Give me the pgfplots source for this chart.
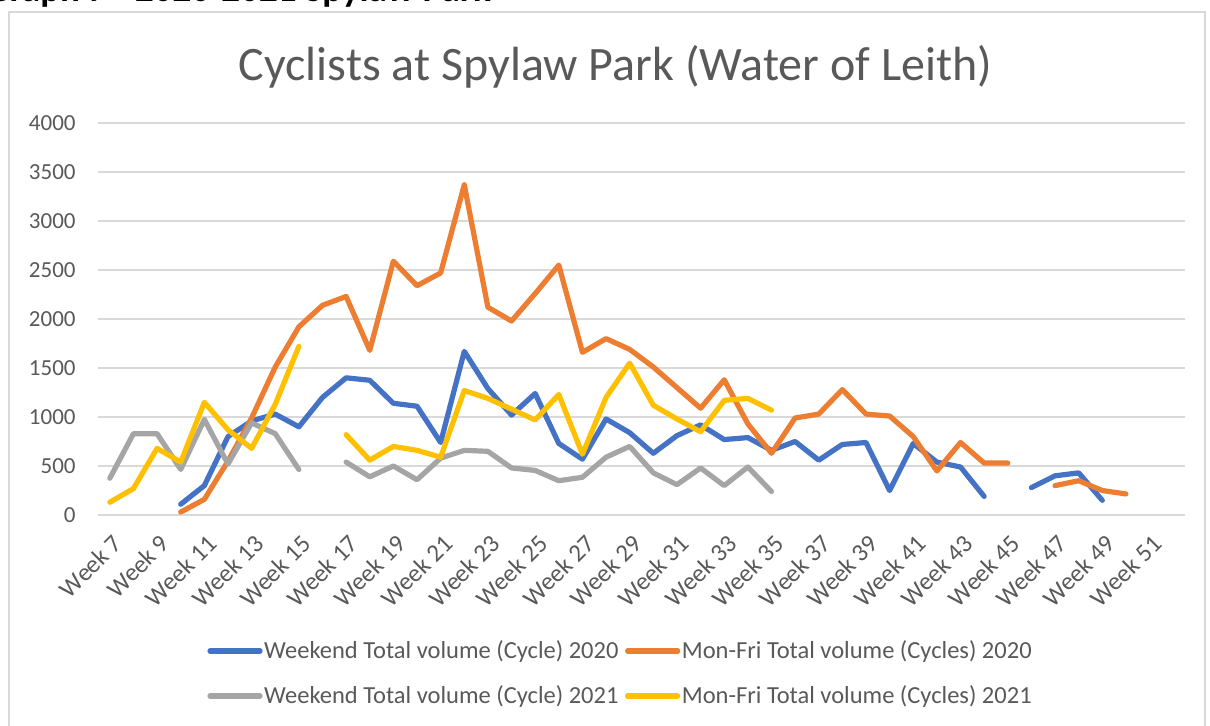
\documentclass[border=0pt]{standalone}
\usepackage{pgfplots}
\pgfplotsset{compat=1.18}
\usepackage{pgfplotstable}
\usepackage{fontspec}
\setmainfont{Carlito}
\definecolor{cblue}{HTML}{4472C4}
\definecolor{corange}{HTML}{ED7D31}
\definecolor{cgrey}{HTML}{A5A5A5}
\definecolor{cyellow}{HTML}{FFC000}
\definecolor{gridgray}{HTML}{D9D9D9}
\definecolor{textgray}{HTML}{595959}

\pgfplotstableread{
week blue orange grey yellow
7   nan  nan  375  130
8   nan  nan  830  270
9   nan  nan  830  680
10  110  30   465  540
11  300  160  975  1150
12  800  550  520  870
13  960  990  940  680
14  1030 1510 830  1130
15  900  1920 465  1720
16  1200 2140 nan  nan
17  1400 2230 540  820
18  1375 1680 390  560
19  1140 2590 500  700
20  1110 2340 360  660
21  740  2470 580  590
22  1670 3370 660  1270
23  1290 2120 650  1190
24  1020 1980 480  1080
25  1240 2260 455  970
26  730  2550 350  1230
27  570  1660 385  620
28  980  1800 590  1200
29  840  1690 700  1550
30  630  1510 430  1120
31  810  1300 310  980
32  920  1090 480  850
33  770  1380 300  1170
34  790  930  490  1190
35  660  630  240  1070
36  750  990  nan  nan
37  560  1030 nan  nan
38  720  1280 nan  nan
39  740  1030 nan  nan
40  250  1010 nan  nan
41  730  800  nan  nan
42  540  450  nan  nan
43  490  740  nan  nan
44  190  530  nan  nan
45  nan  530  nan  nan
46  280  nan  nan  nan
47  400  300  nan  nan
48  430  350  nan  nan
49  150  250  nan  nan
50  nan  215  nan  nan
51  nan  nan  nan  nan
52  nan  nan  nan  nan
}\datatable

\begin{document}
\begin{tikzpicture}
\useasboundingbox (0pt,0pt) rectangle (605pt,-362.5pt);
\draw[gridgray, line width=0.8pt] (4.5pt,-375pt) -- (4.5pt,-6pt) -- (602.5pt,-6pt) -- (602.5pt,-375pt);
\node[anchor=base west, font=\bfseries\fontsize{18.5}{20}\selectfont, text=black] at (-10.5pt,-0.8pt) {Graph 7 - 2020-2021 Spylaw Park};
\node[anchor=base, font=\fontsize{24}{28}\selectfont, text=textgray] at (307.75pt,-40pt) {Cyclists at Spylaw Park (Water of Leith)};
\begin{axis}[
  at={(49pt,-257.5pt)}, anchor=south west,
  scale only axis, width=543.5pt, height=196pt,
  xmin=6.5, xmax=52.5, ymin=0, ymax=4000,
  ytick={0,500,...,4000},
  xtick={7,9,...,51},
  xticklabels={Week 7,Week 9,Week 11,Week 13,Week 15,Week 17,Week 19,Week 21,Week 23,Week 25,Week 27,Week 29,Week 31,Week 33,Week 35,Week 37,Week 39,Week 41,Week 43,Week 45,Week 47,Week 49,Week 51},
  axis line style={draw=none},
  major tick length=0pt,
  ymajorgrids,
  grid style={gridgray, line width=0.8pt},
  /pgf/number format/assume math mode=true,
  /pgf/number format/set thousands separator={},
  yticklabel style={font=\fontsize{11.5}{13}\selectfont, text=textgray, anchor=east, inner sep=0pt, xshift=-11pt},
  xticklabel style={font=\fontsize{12.5}{14}\selectfont, text=textgray, inner sep=0pt, xshift=4pt, yshift=-12pt, rotate=45, anchor=east},
  unbounded coords=jump,
  legend columns=2,
  legend cell align=left,
  legend style={at={(0.1003,-0.4043)}, anchor=west, draw=none, fill=none, inner sep=0pt,
    font=\fontsize{12.25}{14}\selectfont, text=textgray,
    nodes={inner sep=0.8pt},
    /tikz/every even column/.append style={column sep=2.5pt},
    row sep=10.5pt},
  legend image code/.code={\draw[#1, line cap=round] (0pt,0pt) -- (25pt,0pt);},
  every axis plot/.append style={line width=2.6pt, line join=round, line cap=round, no marks},
]
\addplot[cblue] table[x=week, y=blue] {\datatable};
\addplot[corange] table[x=week, y=orange] {\datatable};
\addplot[cgrey] table[x=week, y=grey] {\datatable};
\addplot[cyellow] table[x=week, y=yellow] {\datatable};
\legend{Weekend Total volume (Cycle) 2020, Mon-Fri Total volume (Cycles) 2020, Weekend Total volume (Cycle) 2021, Mon-Fri Total volume (Cycles) 2021}
\end{axis}
\end{tikzpicture}
\end{document}
